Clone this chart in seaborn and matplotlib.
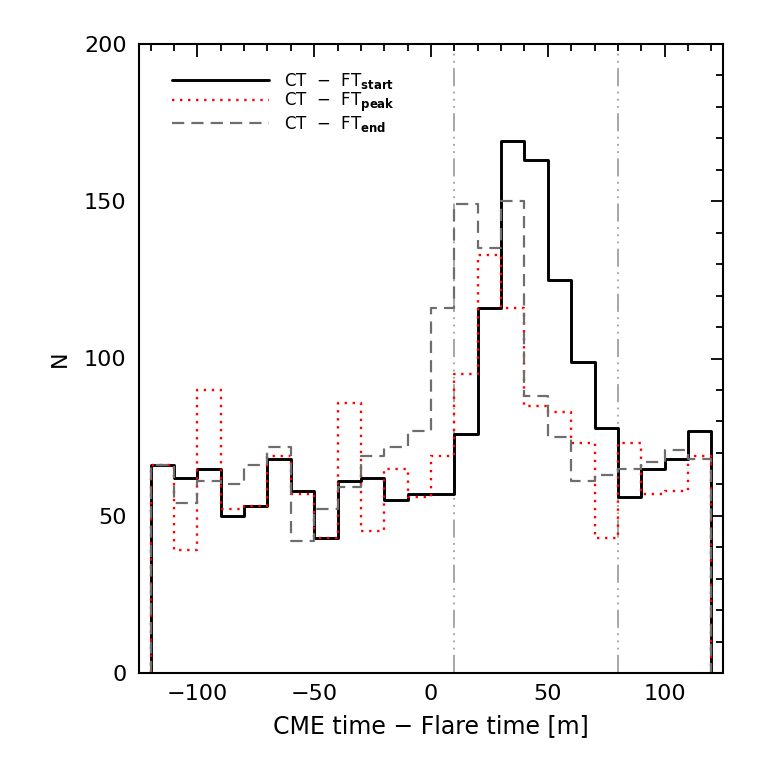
import numpy as np
import pandas as pd
import matplotlib
matplotlib.use("Agg")
import matplotlib.pyplot as plt
import seaborn as sns
from matplotlib.ticker import MultipleLocator

# Bin edges (minutes) and counts
bin_edges = list(range(-120, 121, 10))
ct_ft_start = [66, 62, 65, 50, 53, 68, 58, 43, 61, 62, 55, 57, 57, 76, 116, 169, 163, 125, 99, 78, 56, 65, 68, 77]
ct_ft_peak = [66, 39, 90, 52, 53, 69, 57, 43, 86, 45, 65, 56, 69, 95, 133, 116, 85, 83, 73, 43, 73, 57, 58, 69]
ct_ft_end = [66, 54, 61, 60, 66, 72, 42, 52, 59, 69, 72, 77, 116, 149, 135, 150, 88, 75, 61, 63, 65, 67, 71, 68]
vlines_x = [10, 80]
labels = [r"CT  $-$  FT$_{\mathbf{start}}$", r"CT  $-$  FT$_{\mathbf{peak}}$", r"CT  $-$  FT$_{\mathbf{end}}$"]

sns.set_style("white")
plt.rcParams['font.family'] = ['DejaVu Sans']
plt.rcParams['mathtext.fontset'] = 'dejavusans'
plt.rcParams['text.color'] = 'black'
plt.rcParams['axes.labelcolor'] = 'black'


def step_frame(values):
    x = [bin_edges[0]] + bin_edges + [bin_edges[-1]]
    y = [0] + list(values) + [values[-1], 0]
    return pd.DataFrame({"x": x, "y": y})


fig = plt.figure(figsize=(7.61, 7.61), dpi=100)
ax = fig.add_axes([139 / 761, 1 - 673 / 761, 584 / 761, 629 / 761])

styles = [
    (ct_ft_start, "black", "-", 2.1),
    (ct_ft_peak, "#ff0000", (0, (1, 2.4)), 1.7),
    (ct_ft_end, "#6e6e6e", (0, (5.5, 3.2)), 1.6),
]
for (vals, col, ls, lw), lab in zip(styles, labels):
    df = step_frame(vals)
    sns.lineplot(data=df, x="x", y="y", sort=False, estimator=None,
                 drawstyle="steps-post", color=col, linestyle=ls, linewidth=lw,
                 label=lab, ax=ax)

for xv in vlines_x:
    ax.axvline(xv, color="#a0a0a0", linewidth=1.3,
               linestyle=(0, (10, 3, 1, 3, 1, 3, 1, 3)), zorder=0)

ax.set_xlim(-125, 125)
ax.set_ylim(0, 200)
ax.xaxis.set_major_locator(MultipleLocator(50))
ax.xaxis.set_minor_locator(MultipleLocator(10))
ax.yaxis.set_major_locator(MultipleLocator(50))
ax.yaxis.set_minor_locator(MultipleLocator(10))
ax.tick_params(which="both", direction="in", top=True, right=True,
               width=1.3, labelsize=16, colors="black")
ax.tick_params(axis="y", pad=9)
ax.tick_params(axis="x", pad=8)
ax.tick_params(which="major", length=9)
ax.tick_params(which="minor", length=5)
ax.set_xticks([-100, -50, 0, 50, 100])
ax.set_xticklabels(["\u2212100", "\u221250", "0", "50", "100"])
for sp in ax.spines.values():
    sp.set_linewidth(1.5)
    sp.set_color("black")

ax.set_xlabel("CME time \u2212 Flare time [m]", fontsize=17, labelpad=7, color="black")
ax.set_ylabel("N", fontsize=16, labelpad=10, color="black")

leg = ax.legend(loc="upper left", bbox_to_anchor=(0.045, 0.968), frameon=False,
                fontsize=12, handlelength=5.8, handletextpad=0.9,
                labelspacing=0.0, borderaxespad=0.0)
for t in leg.get_texts():
    t.set_color("black")

fig.savefig("out.png", dpi=100)
